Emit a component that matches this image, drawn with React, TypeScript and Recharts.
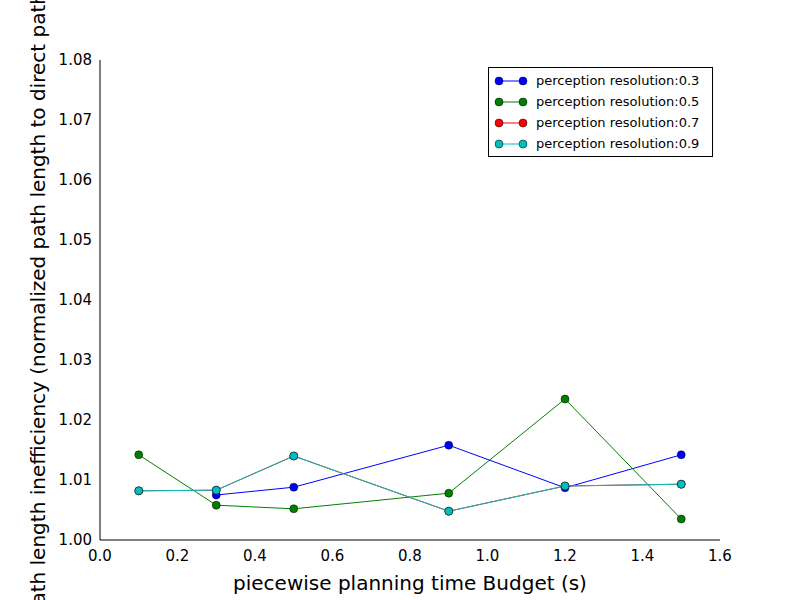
import React from 'react';
import { LineChart, Line, XAxis, YAxis } from 'recharts';

const budgets03 = [0.3, 0.5, 0.9, 1.2, 1.5];
const values03 = [1.0075, 1.0088, 1.0158, 1.0087, 1.0142];
const budgets = [0.1, 0.3, 0.5, 0.9, 1.2, 1.5];
const values05 = [1.0142, 1.0058, 1.0052, 1.0078, 1.0235, 1.0035];
const values07 = [1.0082, 1.0083, 1.014, 1.0048, 1.009, 1.0093];
const values09 = [1.0082, 1.0083, 1.014, 1.0048, 1.009, 1.0093];

const xTicks = [0, 0.2, 0.4, 0.6, 0.8, 1.0, 1.2, 1.4, 1.6];
const yTicks = [1.0, 1.01, 1.02, 1.03, 1.04, 1.05, 1.06, 1.07, 1.08];

const toPoints = (xs: number[], ys: number[]) => xs.map((x, i) => ({ x, y: ys[i] }));

const series = [
  { name: 'perception resolution:0.3', color: '#0000ff', data: toPoints(budgets03, values03) },
  { name: 'perception resolution:0.5', color: '#008000', data: toPoints(budgets, values05) },
  { name: 'perception resolution:0.7', color: '#ff0000', data: toPoints(budgets, values07) },
  { name: 'perception resolution:0.9', color: '#00bfbf', data: toPoints(budgets, values09) },
];

const LegendBox = () => (
  <div style={{ position: 'absolute', top: 67, left: 488, width: 213, border: '1px solid #000', background: '#fff',
    padding: '2px 5px', fontSize: 13, fontFamily: 'DejaVu Sans' }}>
    {series.map((s) => (
      <div key={s.name} style={{ display: 'flex', alignItems: 'center', height: 21 }}>
        <svg width={34} height={12} style={{ marginRight: 8 }}>
          <line x1={5} y1={6} x2={29} y2={6} stroke={s.color} />
          <circle cx={5} cy={6} r={4} fill={s.color} stroke="#000" strokeWidth={0.5} />
          <circle cx={29} cy={6} r={4} fill={s.color} stroke="#000" strokeWidth={0.5} />
        </svg>
        <span>{s.name}</span>
      </div>
    ))}
  </div>
);

export default function App() {
  return (
    <div style={{ position: 'absolute', left: 0, top: 0, width: 800, height: 600, background: '#fff', overflow: 'hidden' }}>
      <LineChart width={800} height={600} margin={{ top: 60, right: 80, bottom: 0, left: 0 }}
        style={{ fontFamily: 'DejaVu Sans' }}>
        <XAxis dataKey="x" type="number" domain={[0, 1.6]} ticks={xTicks} allowDuplicatedCategory={false}
          tickFormatter={(v: number) => v.toFixed(1)} stroke="#000" tickLine={false}
          tick={{ fill: '#000', fontSize: 15 }} tickMargin={4} height={60}
          label={{ value: 'piecewise planning time Budget (s)', position: 'insideBottom', offset: 0, fontSize: 20, fill: '#000', dy: -10 }} />
        <XAxis xAxisId="top" orientation="top" dataKey="x" type="number" domain={[0, 1.6]} tick={false}
          tickLine={false} stroke="#000" height={0} />
        <YAxis dataKey="y" type="number" domain={[1.0, 1.08]} ticks={yTicks} stroke="#000" tickLine={false}
          tickFormatter={(v: number) => v.toFixed(2)} tick={{ fill: '#000', fontSize: 15 }} width={100}
          label={{ value: 'Path length inefficiency (normalized path length to direct path)', angle: -90,
            position: 'center', dx: -12, fontSize: 20, fill: '#000' }} />
        <YAxis yAxisId="right" orientation="right" domain={[1.0, 1.08]} tick={false} tickLine={false}
          stroke="#000" width={0} />
        {series.map((s) => (
          <Line key={s.name} data={s.data} dataKey="y" name={s.name} stroke={s.color} strokeWidth={1}
            dot={{ r: 4, fill: s.color, stroke: '#000', strokeWidth: 0.5 }} isAnimationActive={false} />
        ))}
      </LineChart>
      <LegendBox />
    </div>
  );
}
